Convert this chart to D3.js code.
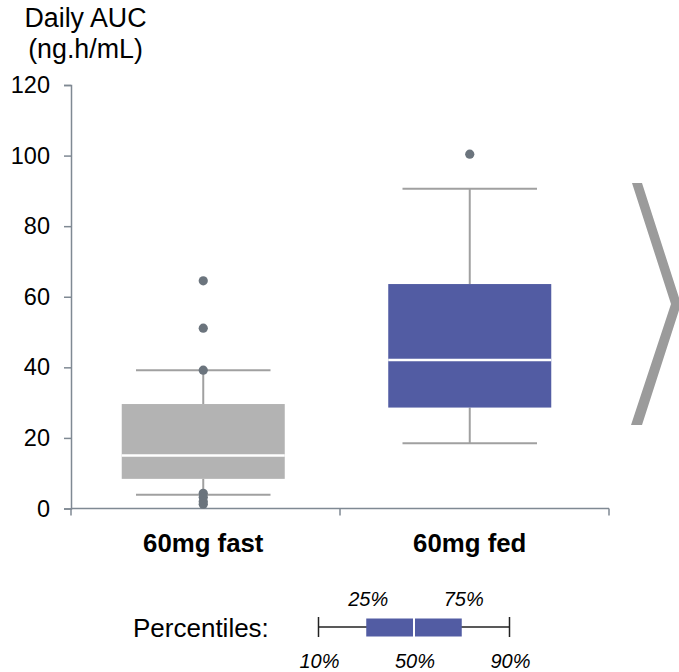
<!DOCTYPE html>
<html>
<head>
<meta charset="utf-8">
<script src="https://cdn.jsdelivr.net/npm/d3@7"></script>
<style>
  html, body { margin: 0; padding: 0; background: #fff; }
  svg { display: block; font-family: "Liberation Sans", Arial, sans-serif; }
</style>
</head>
<body>
<svg id="chart" width="679" height="672"></svg>
<script>
// ---- data ----
const categories = ["60mg fast", "60mg fed"];
const p10 = [3.9, 18.5];
const p25 = [8.4, 28.6];
const p50 = [15.0, 42.1];
const p75 = [29.6, 63.6];
const p90 = [39.2, 90.6];
const outliersFast = [64.5, 51.1, 39.2, 4.3, 3.2, 2.0, 1.2];
const outliersFed = [100.4];
const outliers = [outliersFast, outliersFed];
const boxColors = ["#b3b3b3", "#525ca3"];
const yTicks = [0, 20, 40, 60, 80, 100, 120];
const legendLabelsTop = ["25%", "75%"];
const legendLabelsBottom = ["10%", "50%", "90%"];

const svg = d3.select("#chart");

const y = d3.scaleLinear().domain([0, 120]).range([508.5, 85]);
const x = d3.scaleBand().domain(categories).range([71, 609]).padding(0);
const xb = d3.scaleBand().domain(categories).range([70, 603]).padding(0);
const bw = x.bandwidth();

// title
svg.append("text").attr("x", 85.5).attr("y", 27).attr("text-anchor", "middle")
  .attr("font-size", 26.8).attr("fill", "#000").text("Daily AUC");
svg.append("text").attr("x", 85.5).attr("y", 58).attr("text-anchor", "middle")
  .attr("font-size", 26.8).attr("fill", "#000").text("(ng.h/mL)");

// y axis
const yAxis = svg.append("g").attr("transform", "translate(71,0)")
  .call(d3.axisLeft(y).tickValues(yTicks).tickSize(7).tickSizeOuter(7).tickPadding(14));
yAxis.selectAll("path, line").attr("stroke", "#7f8993").attr("stroke-width", 1.5);
yAxis.selectAll("text").attr("font-size", 23.5).attr("fill", "#000")
  .attr("font-family", "'Liberation Sans', Arial, sans-serif");

// x axis (ticks at band boundaries)
const boundaries = [x(categories[0]), x(categories[1]), x(categories[1]) + bw];
const xg = svg.append("g");
xg.append("line").attr("x1", boundaries[0]).attr("x2", boundaries[2])
  .attr("y1", y(0)).attr("y2", y(0)).attr("stroke", "#7f8993").attr("stroke-width", 1.5);
xg.selectAll("line.tk").data(boundaries).join("line").attr("class", "tk")
  .attr("x1", d => d).attr("x2", d => d).attr("y1", y(0)).attr("y2", y(0) + 7)
  .attr("stroke", "#7f8993").attr("stroke-width", 1.5);
xg.selectAll("text").data(categories).join("text")
  .attr("x", d => xb(d) + xb.bandwidth() / 2).attr("y", 552).attr("text-anchor", "middle")
  .attr("font-size", 25.8).attr("font-weight", "bold").attr("fill", "#000").text(d => d);

// boxes
const boxW = bw * 0.606;
const capW = bw * 0.5;
const cx = i => xb(categories[i]) + xb.bandwidth() / 2;
const whiskerColor = "#a0a0a0";
categories.forEach((c, i) => {
  const g = svg.append("g");
  const c0 = cx(i);
  // whiskers
  g.append("line").attr("x1", c0).attr("x2", c0).attr("y1", y(p90[i])).attr("y2", y(p75[i]))
    .attr("stroke", whiskerColor).attr("stroke-width", 2);
  g.append("line").attr("x1", c0).attr("x2", c0).attr("y1", y(p25[i])).attr("y2", y(p10[i]))
    .attr("stroke", whiskerColor).attr("stroke-width", 2);
  [p10[i], p90[i]].forEach(v => {
    g.append("line").attr("x1", c0 - capW / 2).attr("x2", c0 + capW / 2)
      .attr("y1", y(v)).attr("y2", y(v)).attr("stroke", whiskerColor).attr("stroke-width", 2);
  });
  // box
  g.append("rect").attr("x", c0 - boxW / 2).attr("width", boxW)
    .attr("y", y(p75[i])).attr("height", y(p25[i]) - y(p75[i]))
    .attr("fill", boxColors[i]);
  g.append("line").attr("x1", c0 - boxW / 2).attr("x2", c0 + boxW / 2)
    .attr("y1", y(p50[i])).attr("y2", y(p50[i])).attr("stroke", "#fff").attr("stroke-width", 2.5);
  // outliers
  g.selectAll("circle").data(outliers[i]).join("circle")
    .attr("cx", c0).attr("cy", d => y(d)).attr("r", 4.6).attr("fill", "#6b747d");
});

// chevron
svg.append("polygon")
  .attr("points", "632,183 642,183 681,304 642,425 631,425 671,304")
  .attr("fill", "#9b9b9b");

// legend
const lg = svg.append("g");
lg.append("text").attr("x", 133).attr("y", 636.5).attr("font-size", 26).attr("fill", "#000")
  .text("Percentiles:");
const lx = d3.scaleLinear().domain([10, 90]).range([318.5, 509.5]);
const ly = 627;
lg.append("line").attr("x1", lx(10)).attr("x2", lx(90)).attr("y1", ly).attr("y2", ly)
  .attr("stroke", "#222").attr("stroke-width", 1.5);
[10, 90].forEach(v => lg.append("line").attr("x1", lx(v)).attr("x2", lx(v))
  .attr("y1", ly - 10).attr("y2", ly + 10).attr("stroke", "#222").attr("stroke-width", 1.5));
lg.append("rect").attr("x", lx(30)).attr("width", lx(70) - lx(30))
  .attr("y", 618.5).attr("height", 18).attr("fill", "#525ca3");
lg.append("line").attr("x1", lx(50)).attr("x2", lx(50)).attr("y1", 618).attr("y2", 637)
  .attr("stroke", "#fff").attr("stroke-width", 2);
const topPos = [30, 70];
lg.selectAll("text.top").data(legendLabelsTop).join("text").attr("class", "top")
  .attr("x", (d, i) => lx(topPos[i]) + 2).attr("y", 606).attr("text-anchor", "middle")
  .attr("font-size", 20).attr("font-style", "italic").attr("fill", "#000").text(d => d);
const botPos = [10, 50, 90];
lg.selectAll("text.bot").data(legendLabelsBottom).join("text").attr("class", "bot")
  .attr("x", (d, i) => lx(botPos[i]) + 1).attr("y", 668).attr("text-anchor", "middle")
  .attr("font-size", 20).attr("font-style", "italic").attr("fill", "#000").text(d => d);
</script>
</body>
</html>
